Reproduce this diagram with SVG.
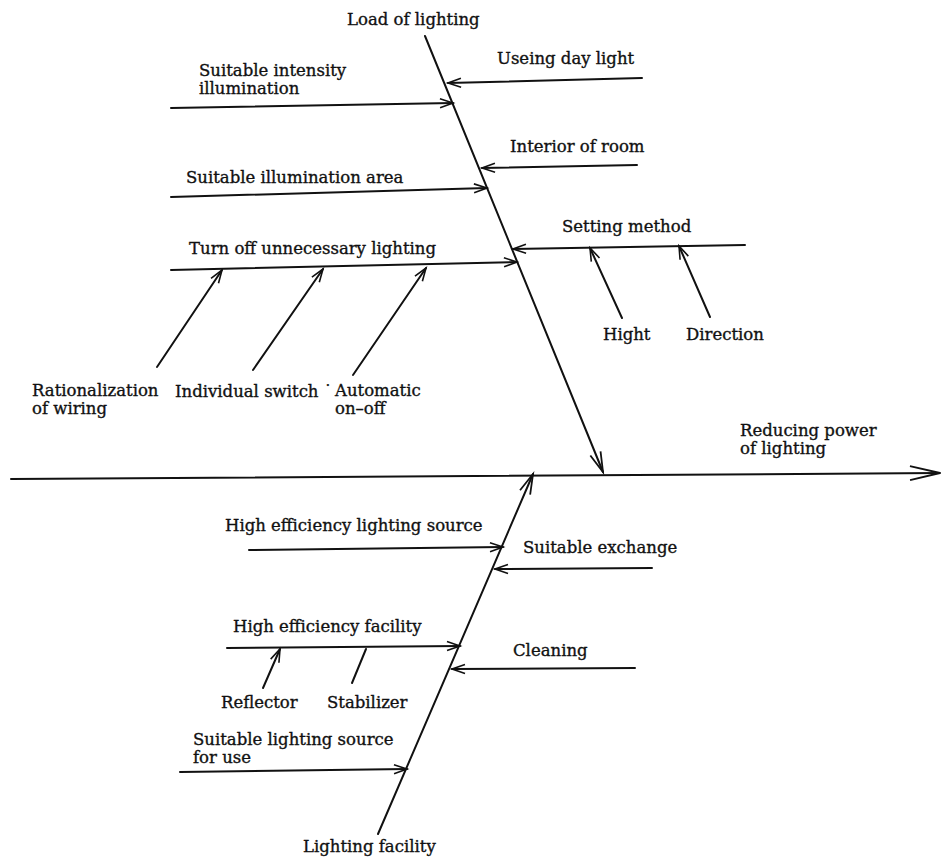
<svg xmlns="http://www.w3.org/2000/svg" width="945" height="864" viewBox="0 0 945 864">
<style>
text{font-family:"DejaVu Serif","Liberation Serif",serif;font-size:16.5px;fill:#111;stroke:#111;stroke-width:0.35}
.l{stroke:#111;stroke-width:2;fill:none;stroke-linecap:round}
.a{marker-end:url(#ah)}
.am{marker-end:url(#am)}
</style>
<defs>
<marker id="ah" markerUnits="userSpaceOnUse" markerWidth="16" markerHeight="12" refX="14" refY="6" orient="auto" overflow="visible">
<path d="M1,1.5 L14,6 L1,10.5" fill="none" stroke="#111" stroke-width="1.6"/>
</marker>
<marker id="am" markerUnits="userSpaceOnUse" markerWidth="22" markerHeight="14" refX="20" refY="7" orient="auto" overflow="visible">
<path d="M0,1.5 L20,7 L0,12.5" fill="none" stroke="#111" stroke-width="1.8"/>
</marker>
<marker id="ab" markerUnits="userSpaceOnUse" markerWidth="32" markerHeight="18" refX="30" refY="9" orient="auto" overflow="visible">
<path d="M0,2 L30,9 L0,16" fill="none" stroke="#111" stroke-width="1.8"/>
</marker>
</defs>
<g id="connectors">
<line class="l" x1="11" y1="479" x2="940" y2="473" marker-end="url(#ab)"/>
<line class="l am" x1="425" y1="36" x2="603" y2="472"/>
<line class="l am" x1="378" y1="834" x2="533" y2="474"/>
<line class="l a" x1="171" y1="108" x2="453" y2="103"/>
<line class="l a" x1="171" y1="197" x2="487" y2="188"/>
<line class="l a" x1="171" y1="270" x2="517" y2="262"/>
<line class="l a" x1="642" y1="78" x2="448" y2="83"/>
<line class="l a" x1="637" y1="165" x2="482" y2="168"/>
<line class="l a" x1="745" y1="245" x2="513" y2="249"/>
<line class="l a" x1="622" y1="318" x2="590" y2="248"/>
<line class="l a" x1="710" y1="317" x2="679" y2="246"/>
<line class="l a" x1="157" y1="367" x2="222" y2="270"/>
<line class="l a" x1="253" y1="370" x2="323" y2="269"/>
<line class="l a" x1="353" y1="375" x2="426" y2="268"/>
<line class="l a" x1="249" y1="550" x2="503" y2="547"/>
<line class="l a" x1="227" y1="648" x2="460" y2="646"/>
<line class="l a" x1="263" y1="688" x2="280" y2="649"/>
<line class="l" x1="352" y1="683" x2="366" y2="649"/>
<line class="l a" x1="180" y1="772" x2="407" y2="769"/>
<line class="l a" x1="652" y1="568" x2="495" y2="569"/>
<line class="l a" x1="635" y1="668" x2="452" y2="669"/>
</g>
<g id="effect"><text x="740" y="436">Reducing power</text><text x="740" y="454">of lighting</text></g>
<g id="load-of-lighting"><text x="347" y="25">Load of lighting</text></g>
<g id="lighting-facility"><text x="303" y="852">Lighting facility</text></g>
<g id="suitable-intensity"><text x="199" y="76">Suitable intensity</text><text x="199" y="94">illumination</text></g>
<g id="suitable-area"><text x="186" y="183">Suitable illumination area</text></g>
<g id="turn-off"><text x="189" y="254">Turn off unnecessary lighting</text></g>
<g id="daylight"><text x="497" y="64">Useing day light</text></g>
<g id="interior"><text x="510" y="152">Interior of room</text></g>
<g id="setting"><text x="562" y="232">Setting method</text></g>
<g id="hight"><text x="603" y="340">Hight</text></g>
<g id="direction"><text x="686" y="340">Direction</text></g>
<g id="rationalization"><text x="32" y="396">Rationalization</text><text x="32" y="414">of wiring</text></g>
<g id="individual"><text x="175" y="397">Individual switch ˙</text></g>
<g id="automatic"><text x="335" y="396">Automatic</text><text x="335" y="414">on–off</text></g>
<g id="he-source"><text x="225" y="531">High efficiency lighting source</text></g>
<g id="exchange"><text x="523" y="553">Suitable exchange</text></g>
<g id="he-facility"><text x="233" y="632">High efficiency facility</text></g>
<g id="cleaning"><text x="513" y="656">Cleaning</text></g>
<g id="reflector"><text x="221" y="708">Reflector</text></g>
<g id="stabilizer"><text x="327" y="708">Stabilizer</text></g>
<g id="suitable-source"><text x="193" y="745">Suitable lighting source</text><text x="193" y="763">for use</text></g>
</svg>
